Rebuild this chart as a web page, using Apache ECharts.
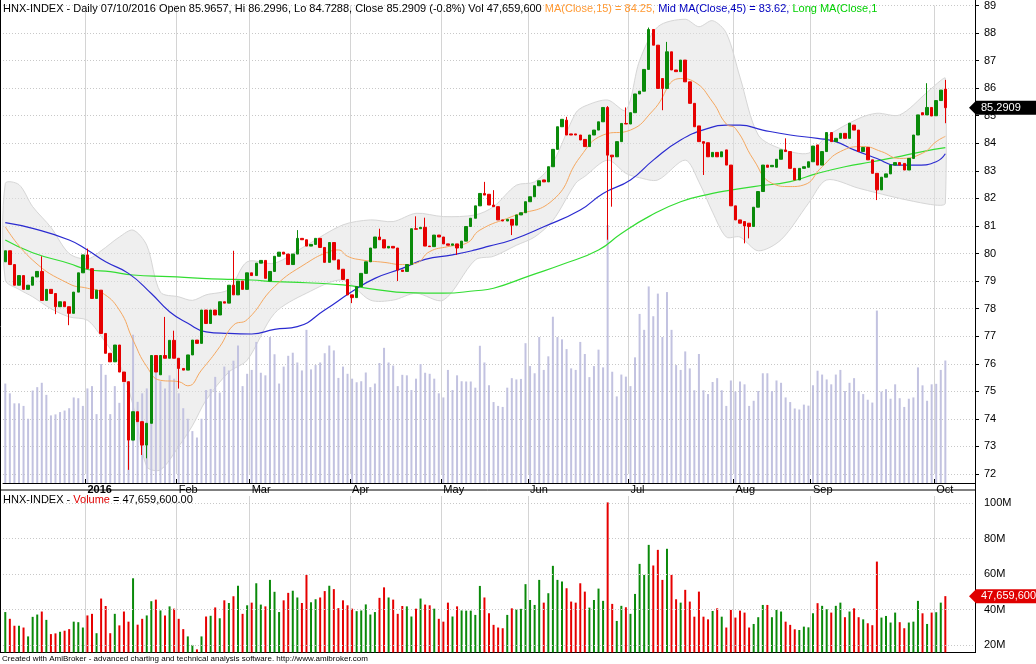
<!DOCTYPE html>
<html>
<head>
<meta charset="utf-8">
<script src="https://cdn.jsdelivr.net/npm/echarts@6/dist/echarts.min.js"></script>
<style>
  html, body { margin: 0; padding: 0; background: #fff; }
  #chart { width: 1036px; height: 664px; }
</style>
</head>
<body>
<div id="chart"></div>
<script>
// daily candles, index 0 = mid Dec 2015, last = 07/10/2016
var opens = [79.7,80.1,79.6,78.85,79.2,78.7,78.85,79.15,79.35,78.3,78.7,78.55,78.07,78.25,78.07,77.83,78.6,79.3,79.95,79.45,
  78.37,78.67,77.1,76.38,76.07,76.68,75.7,75.35,73.23,74.26,73.9,73.05,73.84,76.3,75.6,76.3,76.2,76.85,76.2,75.83,
  75.77,76.32,76.86,76.74,77.95,77.46,77.95,77.77,78.25,78.2,78.85,78.5,79.0,78.7,79.3,79.2,79.65,79.75,79.0,79.35,
  79.9,80.05,79.98,79.6,79.98,80.55,80.5,80.27,80.33,80.55,80.22,79.68,80.4,79.77,79.43,79.06,78.5,78.4,78.8,79.28,
  79.7,80.2,80.6,80.5,80.2,80.26,80.2,79.4,79.35,79.6,80.9,80.9,80.95,80.27,80.25,80.67,80.6,80.35,80.3,80.35,
  80.2,80.45,80.98,81.28,81.73,82.18,82.15,81.76,81.7,81.22,81.18,81.24,81.03,81.4,81.48,81.88,82.06,82.46,82.67,82.6,
  83.15,83.78,84.6,84.84,84.34,84.34,84.3,84.14,83.88,84.3,84.48,84.78,85.3,83.57,83.51,84.06,84.72,84.7,85.11,85.79,
  85.89,86.68,88.13,87.56,86.35,85.99,87.32,86.66,86.6,87.02,86.23,85.45,84.63,84.06,84.02,83.51,83.67,83.51,83.76,83.21,
  81.73,81.22,81.16,81.1,80.98,81.68,82.25,83.21,83.15,83.13,83.42,83.76,83.7,83.09,82.67,83.09,83.13,83.33,83.94,83.21,
  83.7,84.39,84.06,84.18,84.36,84.18,84.66,84.48,83.7,83.85,83.4,82.91,82.31,82.77,82.89,83.21,83.3,83.27,83.03,83.45,
  84.3,85.11,85.03,85.3,85.0,85.55,85.9657];
var closes = [80.1,79.6,78.85,79.2,78.7,78.85,79.15,79.35,78.3,78.7,78.55,78.07,78.25,78.07,77.83,78.6,79.3,79.95,79.45,78.37,
  78.67,77.1,76.38,76.07,76.68,75.7,75.35,73.23,74.26,73.9,73.05,73.84,76.3,75.7,76.3,76.2,76.85,76.2,75.83,75.77,
  76.32,76.86,76.74,77.95,77.46,77.95,77.77,78.25,78.2,78.85,78.5,79.0,78.7,79.3,79.2,79.65,79.75,79.1,79.35,79.9,
  80.05,79.98,79.6,79.98,80.55,80.5,80.27,80.33,80.55,80.22,79.68,80.4,79.77,79.43,79.06,78.5,78.4,78.8,79.28,79.7,
  80.2,80.6,80.5,80.2,80.26,80.2,79.4,79.35,79.6,80.9,80.88,80.95,80.27,80.25,80.67,80.6,80.35,80.3,80.35,80.2,
  80.45,80.98,81.28,81.73,82.18,82.12,81.76,81.7,81.22,81.18,81.24,81.03,81.4,81.48,81.88,82.06,82.46,82.64,82.6,83.15,
  83.78,84.6,84.87,84.3,84.3,84.3,84.12,83.88,84.3,84.48,84.78,85.3,83.57,83.51,84.06,84.72,84.7,85.11,85.79,85.89,
  86.68,88.13,87.56,85.99,85.99,87.32,86.66,86.6,87.02,86.23,85.45,84.6,84.06,84.0,83.51,83.67,83.51,83.69,83.21,81.73,
  81.22,81.1,81.0,80.98,81.68,82.25,83.21,83.13,83.2,83.42,83.76,83.7,83.09,82.67,83.09,83.15,83.33,83.9,83.21,83.7,
  84.39,84.06,84.18,84.36,84.18,84.73,84.48,83.7,83.85,83.4,82.91,82.31,82.77,82.89,83.21,83.3,83.21,83.03,83.45,84.3,
  85.03,85.03,85.3,84.99,85.55,85.93,85.2909];
// notable wick extremes (index: value)
var highWicks = {8:79.9,18:80.18,35:77.7,37:77.2,50:80.1,64:80.85,82:80.9,90:81.35,92:81.3,105:82.6,107:82.3,
  123:84.96,132:85.35,136:85.3,141:88.2,145:87.68,171:84.18,202:86.18,206:86.2996};
var lowWicks = {11:77.8,14:77.4,27:72.15,30:72.69,31:72.57,38:75.1,76:78.2,86:79.0,99:79.95,111:80.67,132:80.5,
  133:81.7,144:85.2,153:82.85,162:80.37,163:80.55,191:81.94,206:84.7288};
// volume in millions
var volumes = [38.7,34.9,31,31,30,25,36,37.3,39,34.3,26.3,26.7,27.6,28.2,29.1,33.3,33,30,36.8,37.7,
  26.8,46.3,42.1,26.8,37.7,31.2,39,33.3,57.7,31.6,34.9,36.8,44.8,45.7,39.6,36.8,41.9,40.6,34.9,29.1,
  25,20.2,17.7,25,36.2,36.6,41.3,35.2,45.3,43.8,47.6,53.5,37.7,42.5,44,54.9,42.9,41.9,56.8,50.1,
  38.7,45.3,49.5,50.7,46.9,43.8,59.6,44.2,45.9,46.9,50.5,53.5,51.6,40.9,45.3,42.5,40.6,39.2,39.6,43,
  37.3,38.7,46.7,52.6,46.9,45.7,37.7,42.1,41.9,36.2,40.6,46.3,42.9,42.5,40.6,34.9,33.3,44,36.2,41.9,39.6,
  39.5,39.5,37.1,53.4,46.9,38,31.5,30,29.6,37.1,40.8,40.3,40.5,54.4,45.5,42.7,56.8,44,49.3,64.7,
  56.8,55.9,52.1,44.6,44,54.9,50.2,41.2,45.5,51.9,45,100.4,43.3,33.7,42.2,41.4,37.7,48.9,65.8,59.6,
  76.5,64.9,73.7,56.8,74.3,59.6,45.9,44,51.2,44.6,36.1,50.2,36.1,34.6,39.3,40.8,36.1,30,39.9,35.6,
  39.5,38.4,30,32,35.8,42.7,42.7,35.8,39.9,39,33.3,31.5,29,28.6,30.5,30.1,38,43.7,42.2,40.3,
  38.4,42.2,44,35.8,39,40.8,35.8,34.6,32.4,31.3,67.1,35.6,36.5,32.8,38.4,33,29.6,32.8,33.3,45,
  38,32,38.4,38.6,44,47.6596];
// indicator lines: [index, value]
var ma15 = [[0,80.97],[6,79.76],[14,78.9],[18,78.74],[21,78.6],[25,77.95],[28,76.86],[31,75.9],[34,75.4],[38,75.35],[40,75.2],
  [43,75.77],[47,76.62],[50,77.4],[53,77.6],[59,78.8],[66,79.65],[71,80.07],[73,80.13],[75,79.9],[78,79.77],[83,79.68],
  [87,79.6],[90,79.65],[93,80.07],[97,80.25],[101,80.37],[104,80.85],[111,81.34],[120,81.94],[126,83.51],[131,84.3],
  [137,84.48],[142,85.2],[148,86.35],[151,86.23],[155,85.5],[158,84.7],[160,84.54],[164,83.4],[168,82.55],[172,82.43],
  [175,82.49],[179,83.15],[183,83.7],[188,83.88],[192,83.7],[196,83.45],[201,83.64],[204,84.06],[206,84.25]];
var ma45 = [[0,81.12],[6,80.91],[14,80.49],[18,80.13],[22,79.7],[27,79.28],[32,78.55],[36,77.89],[40,77.47],[44,77.16],
  [49,77.1],[54,77.08],[59,77.25],[64,77.35],[70,77.95],[76,78.62],[81,79.1],[87,79.46],[92,79.79],[98,79.95],[103,80.13],
  [106,80.27],[111,80.49],[118,80.97],[126,81.58],[131,82.18],[137,82.67],[142,83.39],[148,84.12],[154,84.54],[158,84.66],
  [161,84.66],[166,84.48],[172,84.3],[178,84.18],[182,84.06],[186,83.76],[191,83.45],[195,83.21],[200,83.21],[204,83.33],[206,83.62]];
var maLong = [[0,80.49],[6,80.03],[14,79.64],[18,79.42],[23,79.34],[28,79.22],[36,79.16],[43,79.1],[50,79.06],[54,79.04],
  [59,78.98],[66,78.94],[74,78.86],[81,78.7],[88,78.58],[96,78.56],[103,78.65],[107,78.74],[115,79.2],[122,79.6],
  [130,80.13],[135,80.73],[141,81.34],[148,81.88],[155,82.18],[159,82.3],[164,82.43],[172,82.61],[178,82.91],[184,83.15],
  [190,83.33],[195,83.49],[201,83.7],[206,83.84]];
var bandIdx = [0,3,6,10,14,18,21,25,28,31,34,38,41,44,49,53,59,66,74,80,85,90,96,103,107,112,116,120,125,127,132,136,139,
  143,149,152,155,158,161,165,170,176,180,187,191,196,202,205,206];
var bandUpper = [82.54,82.5,81.7,80.95,80.0,79.8,80.1,80.6,80.85,80.3,78.6,78.43,78.3,78.5,78.7,79.7,79.65,80.3,81.04,81.22,
  81.16,81.46,81.34,81.4,81.7,82.48,82.6,83.3,85.1,85.35,85.57,85.2,87.0,88.23,88.5,88.23,88.45,88.0,86.4,84.3,83.8,83.64,
  84.25,84.9,85.09,85.03,85.85,86.28,86.36];
var bandLower = [79.04,78.7,78.43,78.0,77.7,77.58,77.0,76.0,74.5,72.27,72.15,73.0,73.75,74.68,75.7,76.13,77.83,78.56,79.04,
  78.31,78.31,78.56,78.31,79.77,79.9,80.3,80.6,81.2,82.55,82.8,83.39,82.91,82.75,82.67,83.39,82.6,81.5,80.6,80.6,80.1,80.5,
  81.82,82.67,82.37,82.2,82.0,81.8,81.75,81.82];
var monthTicks = {18:'2016',38:'Feb',54:'Mar',76:'Apr',96:'May',115:'Jun',137:'Jul',160:'Aug',177:'Sep',204:'Oct'};
var totalSlots = 213;

var UP = '#0a8a0a', DOWN = '#e60000';
var cats = [];
for (var i = 0; i < totalSlots; i++) cats.push(String(i));
var candles = opens.map(function (o, i) {
  var c = closes[i];
  var hi = highWicks[i] != null ? highWicks[i] : Math.max(o, c);
  var lo = lowWicks[i] != null ? lowWicks[i] : Math.min(o, c);
  return [o, c, lo, hi];
});
var volColored = volumes.map(function (v, i) {
  return { value: v, itemStyle: { color: closes[i] >= opens[i] ? UP : DOWN } };
});
var isMonth = function (idx) { return monthTicks[idx] != null; };
var FONT = 'Liberation Sans';

var chart = echarts.init(document.getElementById('chart'));
var xBase = {
  type: 'category', data: cats, boundaryGap: true,
  axisLine: { show: false }, axisTick: { show: false }, axisLabel: { show: false },
  splitLine: { show: true, interval: isMonth, lineStyle: { color: '#d4d4d4', width: 1 } }
};
var txt = function (color) { return { color: color, fontSize: 11, fontWeight: 'normal', fontFamily: FONT }; };
var option = {
  animation: false,
  backgroundColor: '#fff',
  textStyle: { fontFamily: FONT },
  title: [{
    left: 3, top: 3, padding: 0,
    text: '{k|HNX-INDEX - Daily 07/10/2016 Open 85.9657, Hi 86.2996, Lo 84.7288, Close 85.2909 (-0.8%) Vol 47,659,600 }{o|MA(Close,15) = 84.25,}{b| Mid MA(Close,45) = 83.62,}{g| Long MA(Close,1}',
    textStyle: { fontWeight: 'normal', rich: { k: txt('#000'), o: txt('#ff9933'), b: txt('#0000c0'), g: txt('#00d000') } }
  }, {
    left: 3, top: 494, padding: 0,
    text: '{k|HNX-INDEX - }{r|Volume}{k| = 47,659,600.00}',
    textStyle: { fontWeight: 'normal', rich: { k: txt('#000'), r: txt('#e00000') } }
  }, {
    left: 2, top: 655, padding: 0,
    text: 'Created with AmiBroker - advanced charting and technical analysis software. http://www.amibroker.com',
    textStyle: { color: '#000', fontSize: 8, fontWeight: 'normal', fontFamily: FONT }
  }],
  grid: [
    { left: 3, right: 61, top: 5.4, height: 468.6 },
    { left: 3, right: 61, top: 225, height: 258 },
    { left: 3, right: 61, top: 496, height: 156.4 }
  ],
  xAxis: [
    Object.assign({}, xBase, {
      gridIndex: 0, offset: 9,
      axisLine: { show: true, lineStyle: { color: '#000' } },
      axisTick: { show: true, interval: isMonth, length: 4, inside: true, lineStyle: { color: '#000' } },
      axisLabel: {
        show: true, interval: 0, align: 'left', margin: 1, fontSize: 11, color: '#000',
        formatter: function (v) { var t = monthTicks[+v]; return t ? (t === '2016' ? '{y|' + t + '}' : t) : ''; },
        rich: { y: { fontWeight: 'bold', fontSize: 11, fontFamily: FONT } }
      }
    }),
    Object.assign({}, xBase, { gridIndex: 1, splitLine: { show: false } }),
    Object.assign({}, xBase, { gridIndex: 2 })
  ],
  yAxis: [
    { gridIndex: 0, type: 'value', position: 'right', min: 72, max: 89, interval: 1,
      axisLine: { show: true, lineStyle: { color: '#000' } },
      axisTick: { show: true, length: 4, lineStyle: { color: '#000' } },
      axisLabel: { fontSize: 11, color: '#000', margin: 9 },
      splitLine: { show: true, lineStyle: { color: '#c8c8c8', type: [1, 2] } } },
    { gridIndex: 1, type: 'value', min: 0, max: 100.4, show: false, splitLine: { show: false } },
    { gridIndex: 2, type: 'value', position: 'right', min: 16, max: 104, interval: 4,
      axisLine: { show: true, lineStyle: { color: '#000' } },
      axisTick: { show: false },
      axisLabel: { fontSize: 11, color: '#000', margin: 9,
        formatter: function (v) { return v % 20 === 0 ? v + 'M' : ''; } },
      splitLine: { show: false } }
  ],
  series: [
    { type: 'custom', xAxisIndex: 0, yAxisIndex: 0, z: 1, silent: true, data: [[0, 80]],
      renderItem: function (params, api) {
        var pts = [];
        bandIdx.forEach(function (x, k) { pts.push(api.coord([x, bandUpper[k]])); });
        for (var k = bandIdx.length - 1; k >= 0; k--) pts.push(api.coord([bandIdx[k], bandLower[k]]));
        return { type: 'polygon', shape: { points: pts, smooth: 0.3 },
          style: { fill: 'rgba(225,225,225,0.55)', stroke: '#d6d6d6', lineWidth: 1 } };
      } },
    { type: 'bar', xAxisIndex: 1, yAxisIndex: 1, data: volumes, barWidth: 2, z: 2,
      itemStyle: { color: '#c2c2e0' } },
    { type: 'line', xAxisIndex: 0, yAxisIndex: 0, data: maLong, smooth: true, showSymbol: false, z: 3,
      lineStyle: { color: '#33dd33', width: 1.2 } },
    { type: 'line', xAxisIndex: 0, yAxisIndex: 0, data: ma45, smooth: true, showSymbol: false, z: 3,
      lineStyle: { color: '#2b2bd0', width: 1.2 } },
    { type: 'line', xAxisIndex: 0, yAxisIndex: 0, data: ma15, smooth: true, showSymbol: false, z: 3,
      lineStyle: { color: '#f5a860', width: 1 } },
    { type: 'candlestick', xAxisIndex: 0, yAxisIndex: 0, data: candles, barWidth: 3, z: 4,
      itemStyle: { color: UP, color0: DOWN, borderColor: UP, borderColor0: DOWN, borderWidth: 1 } },
    { type: 'bar', xAxisIndex: 2, yAxisIndex: 2, data: volColored, barWidth: 2, z: 3,
      markLine: { silent: true, symbol: 'none', label: { show: false },
        lineStyle: { color: '#c8c8c8', type: [1, 2], width: 1 },
        data: [{ yAxis: 20 }, { yAxis: 40 }, { yAxis: 60 }, { yAxis: 80 }, { yAxis: 100 }] } }
  ]
};
chart.setOption(option);

// value tags on the right axis, placed through the axis scales
var lastClose = closes[closes.length - 1];
var lastVol = volumes[volumes.length - 1];
var yP = chart.convertToPixel({ yAxisIndex: 0 }, lastClose);
var yV = chart.convertToPixel({ yAxisIndex: 2 }, lastVol);
function tag(y, label, bg) {
  return [
    { type: 'polygon', shape: { points: [[969, y], [976, y - 7], [1036, y - 7], [1036, y + 7], [976, y + 7]] },
      style: { fill: bg }, z: 100 },
    { type: 'text', x: 981, y: y, style: { text: label, fill: '#fff', fontSize: 11, fontFamily: FONT, verticalAlign: 'middle' }, z: 101 }
  ];
}
chart.setOption({ graphic: [].concat(
  tag(yP, lastClose.toFixed(4), '#000'),
  tag(yV, '47,659,600', '#e00000'),
  [
    { type: 'line', shape: { x1: 0, y1: 490, x2: 975, y2: 490 }, style: { stroke: '#000', lineWidth: 1 } },
    { type: 'line', shape: { x1: 0.5, y1: 0, x2: 0.5, y2: 653 }, style: { stroke: '#000', lineWidth: 1 } },
    { type: 'line', shape: { x1: 0, y1: 652.5, x2: 975, y2: 652.5 }, style: { stroke: '#000', lineWidth: 1 } },
    { type: 'line', shape: { x1: 975.5, y1: 0, x2: 975.5, y2: 653 }, style: { stroke: '#000', lineWidth: 1 } }
  ]) });
window.addEventListener('resize', chart.resize);
</script>
</body>
</html>
